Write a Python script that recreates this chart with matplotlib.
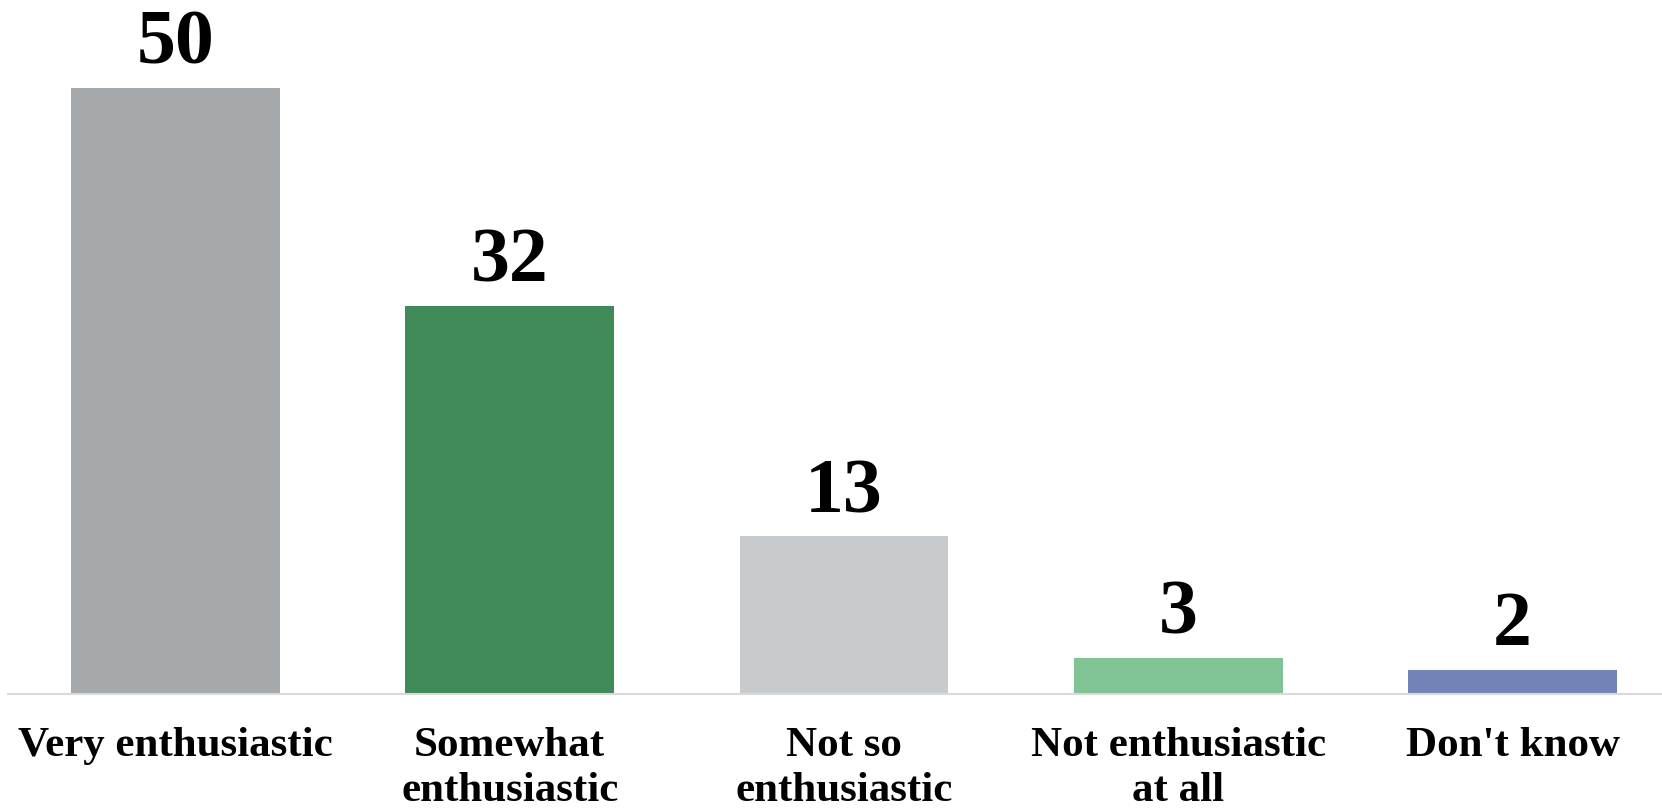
import matplotlib
matplotlib.use("Agg")
import matplotlib.pyplot as plt

# 資料
categories = ["Very enthusiastic", "Somewhat\nenthusiastic", "Not so\nenthusiastic",
              "Not enthusiastic\nat all", "Don't know"]
values = [50, 32, 13, 3, 2]
colors = ["#a5a9ac", "#3f8a57", "#c8cbce", "#80c495", "#7283b8"]

plt.rcParams['font.family'] = ['Liberation Serif', 'DejaVu Serif']

fig = plt.figure(figsize=(16.62, 8.12), dpi=100)
ax = fig.add_axes([0.0048, 0.144, 0.9952, 0.856])

x = list(range(len(values)))
bars = ax.bar(x, values, width=0.625, color=colors)

for xi, v in zip(x, values):
    ax.annotate(str(v), (xi, v), xytext=(0, 6), textcoords="offset points",
                ha="center", va="bottom", fontsize=56, fontweight="bold")

ax.set_xlim(-0.501, 4.447)
ax.set_ylim(0, 57.34)
ax.set_xticks(x)
ax.set_xticklabels(categories, fontsize=31, fontweight="bold", linespacing=1.25)
ax.tick_params(axis="x", length=0, pad=23)
ax.set_yticks([])
for s in ["top", "right", "left"]:
    ax.spines[s].set_visible(False)
ax.spines["bottom"].set_color("#d9d9d9")
ax.spines["bottom"].set_linewidth(1.5)

fig.savefig("out.png", dpi=100)
